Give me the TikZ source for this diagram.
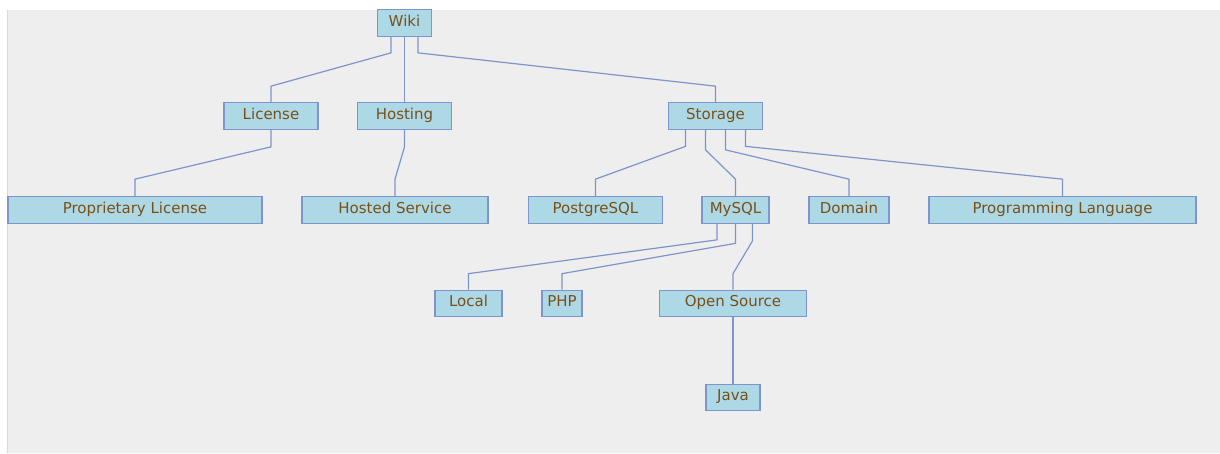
\documentclass[tikz,border=0pt]{standalone}
\usepackage{fontspec}
\setmainfont{DejaVu Sans}
\usetikzlibrary{calc}
\definecolor{boxfill}{RGB}{173,216,230}
\definecolor{boxline}{RGB}{126,148,202}
\definecolor{boxtext}{RGB}{122,80,24}
\definecolor{panel}{RGB}{238,238,238}

\begin{document}
\begin{tikzpicture}[x=1pt, y=-1pt,
        box/.style={draw=boxline, fill=boxfill, line width=1.2pt, text=boxtext,
            minimum height=26.5pt, inner sep=0pt, text height=10pt, text depth=4pt,
            font=\fontsize{15}{17}\selectfont},
        link/.style={draw=boxline, line width=1.2pt}]
            \useasboundingbox (0,0) rectangle (1220,453);
            \fill[panel] (7,10) rectangle (1220,453);
            \draw[black!15] (7,10) -- (7,453);
            \node[box, minimum width=54pt] (wiki) at (404.5,23) {Wiki};
            \node[box, minimum width=94pt] (license) at (271,116) {License};
            \node[box, minimum width=94pt] (hosting) at (404.5,116) {Hosting};
            \node[box, minimum width=94pt] (storage) at (715.5,116) {Storage};
            \node[box, minimum width=254pt] (proprietary) at (135,210) {Proprietary License};
            \node[box, minimum width=186pt] (hosted) at (395,210) {Hosted Service};
            \node[box, minimum width=134pt] (postgres) at (595.5,210) {PostgreSQL};
            \node[box, minimum width=67pt] (mysql) at (735.5,210) {MySQL};
            \node[box, minimum width=80pt] (domain) at (849,210) {Domain};
            \node[box, minimum width=267pt] (proglang) at (1062.5,210) {Programming Language};
            \node[box, minimum width=67pt] (local) at (468.5,303.5) {Local};
            \node[box, minimum width=40pt] (php) at (562,303.5) {PHP};
            \node[box, minimum width=147pt] (opensrc) at (733,303.5) {Open Source};
            \node[box, minimum width=54pt] (java) at (733,397.5) {Java};
            \draw[link] ([xshift=-13.5pt]wiki.south) -- ++(0,16) -- ([yshift=16pt]license.north) -- (license.north);
            \draw[link] (wiki.south) -- (hosting.north);
            \draw[link] ([xshift=13.5pt]wiki.south) -- ++(0,16) -- ([yshift=16pt]storage.north) -- (storage.north);
            \draw[link] (license.south) -- ++(0,17) -- ([yshift=17pt]proprietary.north) -- (proprietary.north);
            \draw[link] (hosting.south) -- ++(0,17) -- ([yshift=17pt]hosted.north) -- (hosted.north);
            \draw[link] ([xshift=-30pt]storage.south) -- ++(0,16.5) -- ([yshift=17pt]postgres.north) -- (postgres.north);
            \draw[link] ([xshift=-10pt]storage.south) -- ++(0,20) -- ([yshift=17pt]mysql.north) -- (mysql.north);
            \draw[link] ([xshift=10pt]storage.south) -- ++(0,20) -- ([yshift=17pt]domain.north) -- (domain.north);
            \draw[link] ([xshift=30pt]storage.south) -- ++(0,16.5) -- ([yshift=17pt]proglang.north) -- (proglang.north);
            \draw[link] ([xshift=-18.5pt]mysql.south) -- ++(0,16) -- ([yshift=16pt]local.north) -- (local.north);
            \draw[link] (mysql.south) -- ++(0,19.5) -- ([yshift=16pt]php.north) -- (php.north);
            \draw[link] ([xshift=17pt]mysql.south) -- ++(0,17) -- ([yshift=16pt]opensrc.north) -- (opensrc.north);
            \draw[link] (opensrc.south) -- (java.north);
        \end{tikzpicture}
\end{document}
